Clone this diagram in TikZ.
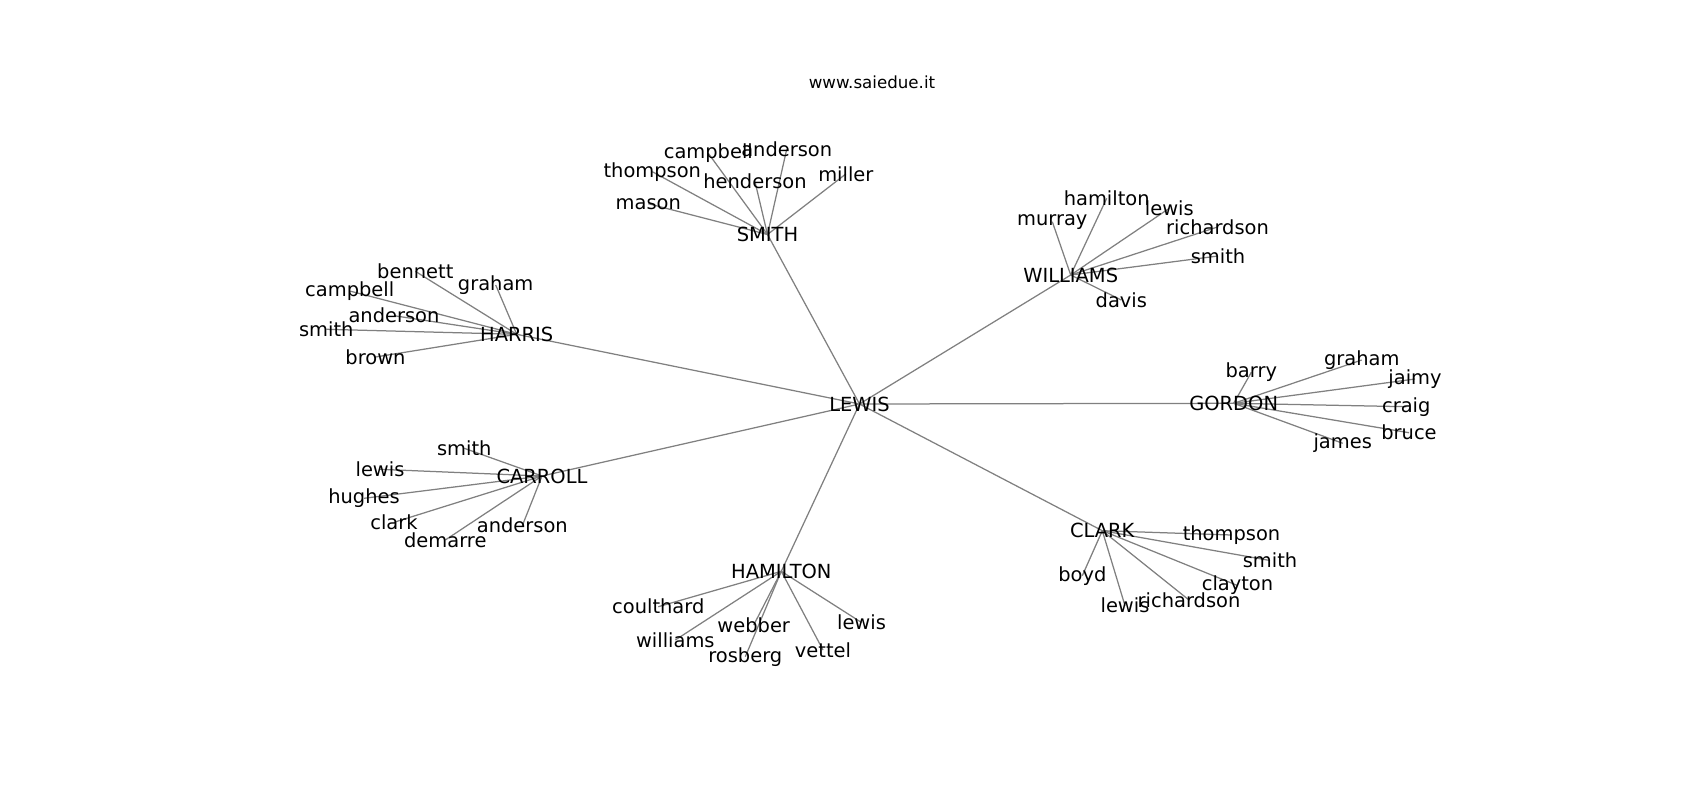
\documentclass[tikz,border=0pt]{standalone}
\usepackage{fontspec}
\setmainfont{DejaVu Sans}
\usetikzlibrary{backgrounds}
\begin{document}
\begin{tikzpicture}[x=0.72pt,y=-0.72pt,
  lbl/.style={font=\fontsize{14}{16}\selectfont, inner sep=0pt, text=black},
  ttl/.style={font=\fontsize{12}{14}\selectfont, inner sep=0pt, text=black},
  edge/.style={draw=black!50, line width=0.9pt}]
\useasboundingbox (0,0) rectangle (1700,800);
\node[ttl] (title) at (872,82.3) {www.saiedue.it};
% hubs
\node[lbl] (LEWIS) at (859.5,404) {LEWIS};
\node[lbl] (SMITH) at (767.5,234.5) {SMITH};
\node[lbl] (HARRIS) at (516.7,334.3) {HARRIS};
\node[lbl] (WILLIAMS) at (1070.7,275) {WILLIAMS};
\node[lbl] (GORDON) at (1233.7,403.3) {GORDON};
\node[lbl] (CARROLL) at (542,476) {CARROLL};
\node[lbl] (HAMILTON) at (781.3,571.3) {HAMILTON};
\node[lbl] (CLARK) at (1102.3,530.7) {CLARK};
% SMITH leaves
\node[lbl] (sm-mason) at (648.3,203.7) {mason};
\node[lbl] (sm-thompson) at (652.3,171.7) {thompson};
\node[lbl] (sm-campbell) at (708.3,153.3) {campbell};
\node[lbl] (sm-anderson) at (786.7,149.3) {anderson};
\node[lbl] (sm-henderson) at (755,181.7) {henderson};
\node[lbl] (sm-miller) at (845.8,174) {miller};
% HARRIS leaves
\node[lbl] (ha-bennett) at (415.3,271.3) {bennett};
\node[lbl] (ha-graham) at (495.7,285) {graham};
\node[lbl] (ha-campbell) at (349.7,291) {campbell};
\node[lbl] (ha-anderson) at (394,315.7) {anderson};
\node[lbl] (ha-smith) at (326.3,329.3) {smith};
\node[lbl] (ha-brown) at (375.5,357) {brown};
% WILLIAMS leaves
\node[lbl] (wi-hamilton) at (1106.7,198.3) {hamilton};
\node[lbl] (wi-lewis) at (1169.3,208.3) {lewis};
\node[lbl] (wi-murray) at (1052.3,221.7) {murray};
\node[lbl] (wi-richardson) at (1217.5,227) {richardson};
\node[lbl] (wi-smith) at (1218,256) {smith};
\node[lbl] (wi-davis) at (1121.3,300) {davis};
% GORDON leaves
\node[lbl] (go-barry) at (1251.3,372.3) {barry};
\node[lbl] (go-graham) at (1361.7,360) {graham};
\node[lbl] (go-jaimy) at (1415,379) {jaimy};
\node[lbl] (go-craig) at (1406.3,406.7) {craig};
\node[lbl] (go-bruce) at (1409,432.7) {bruce};
\node[lbl] (go-james) at (1342.7,443.3) {james};
% CARROLL leaves
\node[lbl] (ca-smith) at (464.3,448.3) {smith};
\node[lbl] (ca-lewis) at (380,469.3) {lewis};
\node[lbl] (ca-hughes) at (364,498.3) {hughes};
\node[lbl] (ca-clark) at (394,522.3) {clark};
\node[lbl] (ca-demarre) at (445.3,540) {demarre};
\node[lbl] (ca-anderson) at (522.3,525.7) {anderson};
% HAMILTON leaves
\node[lbl] (hm-coulthard) at (658.3,606.7) {coulthard};
\node[lbl] (hm-webber) at (753.7,625) {webber};
\node[lbl] (hm-lewis) at (861.5,622.5) {lewis};
\node[lbl] (hm-williams) at (675.3,640) {williams};
\node[lbl] (hm-rosberg) at (745.3,656.7) {rosberg};
\node[lbl] (hm-vettel) at (823,650) {vettel};
% CLARK leaves
\node[lbl] (cl-thompson) at (1231.5,535) {thompson};
\node[lbl] (cl-smith) at (1270,560.5) {smith};
\node[lbl] (cl-clayton) at (1237.5,585.5) {clayton};
\node[lbl] (cl-boyd) at (1082.3,575.7) {boyd};
\node[lbl] (cl-lewis) at (1125,605.7) {lewis};
\node[lbl] (cl-richardson) at (1189,600) {richardson};
\begin{scope}[on background layer]
\foreach \h in {SMITH,HARRIS,WILLIAMS,GORDON,CARROLL,HAMILTON,CLARK}
  \draw[edge] (LEWIS.center) -- (\h.center);
\foreach \l in {mason,thompson,campbell,anderson,henderson,miller}
  \draw[edge] (SMITH.center) -- (sm-\l.center);
\foreach \l in {bennett,graham,campbell,anderson,smith,brown}
  \draw[edge] (HARRIS.center) -- (ha-\l.center);
\foreach \l in {hamilton,lewis,murray,richardson,smith,davis}
  \draw[edge] (WILLIAMS.center) -- (wi-\l.center);
\foreach \l in {barry,graham,jaimy,craig,bruce,james}
  \draw[edge] (GORDON.center) -- (go-\l.center);
\foreach \l in {smith,lewis,hughes,clark,demarre,anderson}
  \draw[edge] (CARROLL.center) -- (ca-\l.center);
\foreach \l in {coulthard,webber,lewis,williams,rosberg,vettel}
  \draw[edge] (HAMILTON.center) -- (hm-\l.center);
\foreach \l in {thompson,smith,clayton,boyd,lewis,richardson}
  \draw[edge] (CLARK.center) -- (cl-\l.center);
\end{scope}
\end{tikzpicture}
\end{document}
